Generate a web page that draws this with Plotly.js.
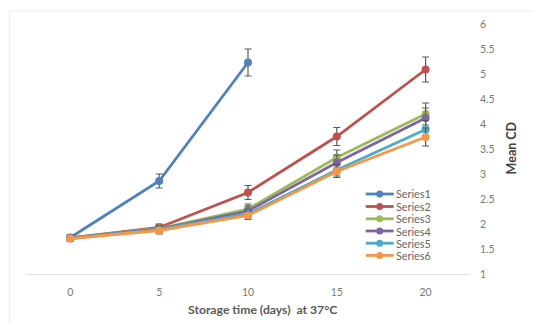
<!DOCTYPE html>
<html>
<head>
<meta charset="utf-8">
<script src="https://cdn.plot.ly/plotly-3.0.1.min.js"></script>
<style>html,body{margin:0;padding:0;background:#fff;}#chart{width:533px;height:323px;}</style>
</head>
<body>
<div id="chart"></div>
<script>
var days = [0, 5, 10, 15, 20];
var names = ["Series1", "Series2", "Series3", "Series4", "Series5", "Series6"];
var colors = ["#4F81BD", "#C0504D", "#9BBB59", "#8064A2", "#4BACC6", "#F79646"];
var s1 = [1.73, 2.86, 5.23];
var s2 = [1.72, 1.93, 2.63, 3.75, 5.09];
var s3 = [1.72, 1.91, 2.30, 3.33, 4.20];
var s4 = [1.72, 1.90, 2.26, 3.23, 4.12];
var s5 = [1.71, 1.89, 2.20, 3.08, 3.89];
var s6 = [1.71, 1.87, 2.17, 3.05, 3.74];
var e1 = [0.06, 0.14, 0.27];
var e2 = [0.06, 0.07, 0.14, 0.18, 0.25];
var e3 = [0.06, 0.07, 0.10, 0.15, 0.22];
var e4 = [0.06, 0.07, 0.10, 0.15, 0.20];
var e5 = [0.06, 0.07, 0.08, 0.12, 0.18];
var e6 = [0.06, 0.07, 0.08, 0.12, 0.18];
var yTicks = [1, 1.5, 2, 2.5, 3, 3.5, 4, 4.5, 5, 5.5, 6];
var xTitle = "Storage time (days)  at 37°C";
var yTitle = "Mean CD";

var series = [s1, s2, s3, s4, s5, s6];
var errs = [e1, e2, e3, e4, e5, e6];
var traces = series.map(function (ys, i) {
  return {
    x: days.slice(0, ys.length), y: ys, name: names[i], type: "scatter", mode: "lines+markers",
    line: {color: colors[i], width: 2.8},
    marker: {color: colors[i], size: 8},
    error_y: {type: "data", array: errs[i], visible: true, color: "#5a5a5a", thickness: 1.2, width: 3.5},
    showlegend: false
  };
});

// plot area in pixels: x 25.5..470.5, y 24..274
var L = 25.5, R = 470.5, T = 24, B = 274;
function px(x) { return (x - L) / (R - L); }
function py(y) { return (B - y) / (B - T); }

var shapes = [{
  type: "rect", xref: "paper", yref: "paper",
  x0: px(9), x1: px(560), y0: py(340), y1: py(11),
  line: {color: "#ebebeb", width: 1.2}, fillcolor: "rgba(0,0,0,0)", layer: "below"
}];
var annotations = [];
var rowY = [194, 206.5, 218.8, 231, 243.2, 255.4];
names.forEach(function (n, i) {
  shapes.push({type: "line", xref: "paper", yref: "paper", x0: px(366), x1: px(394), y0: py(rowY[i]), y1: py(rowY[i]),
    line: {color: colors[i], width: 2.8}});
  shapes.push({type: "circle", xref: "paper", yref: "paper", x0: px(376.5), x1: px(383.5), y0: py(rowY[i] + 3.5), y1: py(rowY[i] - 3.5),
    line: {color: colors[i], width: 0}, fillcolor: colors[i]});
  annotations.push({xref: "paper", yref: "paper", x: px(394), y: py(rowY[i]), xanchor: "left", yanchor: "middle",
    text: n, showarrow: false, font: {family: "Lato, sans-serif", size: 10.8, color: "#666666"}});
});
annotations.push({xref: "paper", yref: "paper", x: px(263), y: py(309), xanchor: "center", yanchor: "middle",
  text: "<b>" + xTitle + "</b>", showarrow: false, font: {family: "Lato, sans-serif", size: 12.2, color: "#595959"}});
annotations.push({xref: "paper", yref: "paper", x: px(512), y: py(148), xanchor: "center", yanchor: "middle", textangle: -90,
  text: "<b>" + yTitle + "</b>", showarrow: false, font: {family: "Lato, sans-serif", size: 12.5, color: "#404040"}});

var layout = {
  width: 533, height: 323,
  margin: {l: L, r: 533 - R, t: T, b: 323 - B, pad: 0},
  paper_bgcolor: "#ffffff", plot_bgcolor: "#ffffff",
  showlegend: false,
  font: {family: "Lato, sans-serif", color: "#7a7a7a", size: 10},
  xaxis: {
    range: [-2.5, 22.5], tickvals: days, ticktext: days.map(String),
    showgrid: false, zeroline: false, showline: true, linecolor: "#e0e0e0", linewidth: 1,
    ticks: "", ticklabelstandoff: 8, tickfont: {size: 10.5, color: "#7a7a7a"}
  },
  yaxis: {
    side: "right", range: [1, 6], tickvals: yTicks, ticktext: yTicks.map(String),
    showgrid: false, zeroline: false, showline: false,
    ticks: "", ticklabelstandoff: 9, tickfont: {size: 10.5, color: "#7a7a7a"}
  },
  shapes: shapes,
  annotations: annotations
};
Plotly.newPlot("chart", traces, layout, {displayModeBar: false, staticPlot: true});
</script>
</body>
</html>
